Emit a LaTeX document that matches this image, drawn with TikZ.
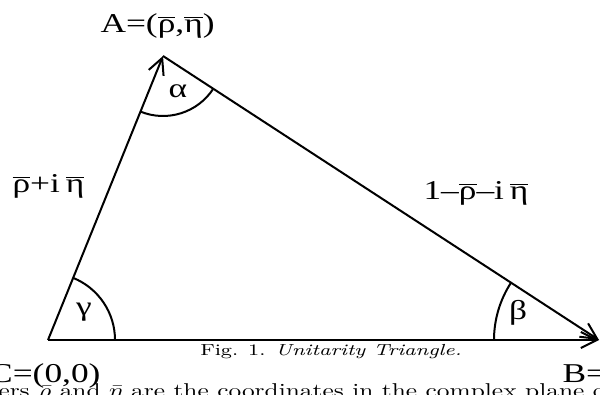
\documentclass[tikz,border=0pt]{standalone}
\usepackage{fontspec}
\newfontfamily\trifont{Liberation Serif}
\usepackage{tikz}
\usetikzlibrary{arrows.meta}
\newcommand\barsym[1]{$\overline{\hbox{#1}}$}

\begin{document}
\begin{tikzpicture}[
  x=0.5pt,y=-0.5pt,
  cote/.style={line width=1pt,-{Straight Barb[length=8pt,width=8pt,line width=1pt]}},
  arcangle/.style={line width=1pt},
  etiq/.style={font=\trifont\fontsize{13.6}{16}\selectfont,inner sep=0pt,xscale=1.3,transform shape},
  legende/.style={font=\fontsize{8}{10}\selectfont,inner sep=0pt,xscale=1.31,transform shape},
  texte/.style={font=\fontsize{10}{12}\selectfont,inner sep=0pt,xscale=1.27,transform shape}
]
\useasboundingbox (0,0) rectangle (600,395);
\clip (0,0) rectangle (600,395);
\coordinate (C) at (48,340);
\coordinate (B) at (599,340);
\coordinate (A) at (163,56);
\draw[cote] (C)--(A);
\draw[cote] (A)--(B);
\draw[cote] (C)--(B);
\draw[arcangle] (C) ++(0:67) arc[start angle=0,end angle=-68,radius=67];
\draw[arcangle] (B) ++(180:105) arc[start angle=180,end angle=213.1,radius=105];
\draw[arcangle] (A) ++(33.1:60) arc[start angle=33.1,end angle=112,radius=60];
\node[etiq,anchor=base west] (lblA) at (100,33) {A=(\barsym{ρ},\barsym{η})};
\node[etiq,anchor=base west] (lblCA) at (12,193) {\barsym{ρ}+i\,\barsym{η}};
\node[etiq,anchor=base west] (lblAB) at (423,200) {1–\barsym{ρ}–i\,\barsym{η}};
\node[etiq] (alpha) at (178,91) {α};
\node[etiq] (gamma) at (84,312) {γ};
\node[etiq] (beta) at (518,313) {β};
\node[legende,anchor=base] (fig) at (331,356) {Fig. 1. \textit{Unitarity Triangle.}};
\node[etiq,anchor=base east] (lblC) at (101,382) {C=(0,0)};
\node[etiq,anchor=base west] (lblB) at (562,382) {B=};
\node[texte,anchor=base west] (suite) at (-2,398) {ers $\bar\rho$ and $\bar\eta$ are the coordinates in the complex plane of};
\end{tikzpicture}
\end{document}
